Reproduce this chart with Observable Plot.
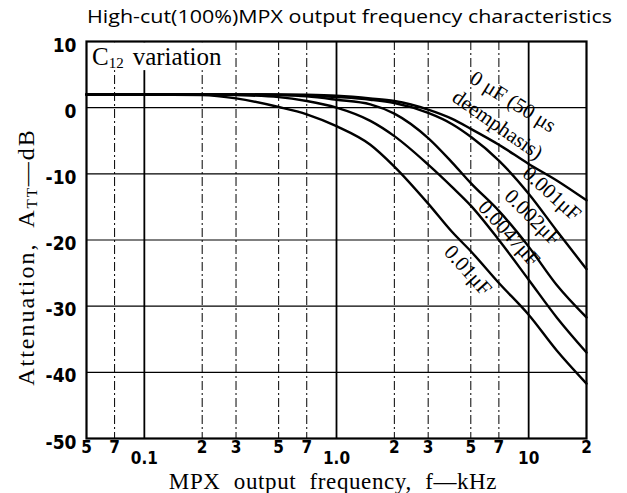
<!DOCTYPE html>
<html><head><meta charset="utf-8">
<script src="https://cdn.jsdelivr.net/npm/d3@7"></script>
<script src="https://cdn.jsdelivr.net/npm/@observablehq/plot@0.6"></script>
<style>body{margin:0;background:#fff} svg{display:block}</style>
</head><body><div id="chart"></div>
<script>
// frequencies in kHz at which curves were read
const freqs = [0.05, 0.1, 0.2, 0.3, 0.5, 0.7, 1, 1.5, 2, 3, 4, 5, 7, 10, 14, 20];
// attenuation in dB for each C12 value
const db_0uF    = [2, 2, 2, 2, 2, 1.95, 1.8, 1.4, 1.0, -0.3, -1.7, -3.2, -5.6, -8.5, -11.0, -14.0];
const db_0001uF = [2, 2, 2, 2, 1.95, 1.85, 1.6, 1.2, 0.7, -0.8, -2.5, -4.4, -8.0, -13.0, -18.6, -24.4];
const db_0002uF = [2, 2, 2, 2, 1.9, 1.7, 1.2, 0.5, -0.9, -4.6, -8.3, -11.4, -15.6, -21.0, -26.8, -31.7];
const db_00047uF= [2, 2, 2, 1.9, 1.6, 1.0, 0.0, -2.0, -4.3, -8.6, -12.0, -14.8, -20.0, -26.0, -31.7, -37.0];
const db_001uF  = [2, 2, 1.9, 1.4, 0.1, -1.0, -2.8, -5.6, -8.9, -14.5, -18.8, -21.7, -26.5, -31.3, -36.7, -41.7];
const seriesNames = ["0 µF", "0.001 µF", "0.002 µF", "0.0047 µF", "0.01 µF"];
const seriesValues = [db_0uF, db_0001uF, db_0002uF, db_00047uF, db_001uF];

// axes
const yTicks = [10, 0, -10, -20, -30, -40, -50];
const yTickText = ["10", "0", "-10", "-20", "-30", "-40", "-50"];
const xTicksUpper = [0.05, 0.07, 0.2, 0.3, 0.5, 0.7, 2, 3, 5, 7, 20];
const xTickUpperText = ["5", "7", "2", "3", "5", "7", "2", "3", "5", "7", "2"];
const xTicksLower = [0.1, 1, 10];
const xTickLowerText = ["0.1", "1.0", "10"];
const gridYValues = [0, -10, -20, -30, -40];
const gridXDecades = [0.1, 1, 10];
const gridXMinor = [0.07, 0.2, 0.3, 0.5, 0.7, 2, 3, 5, 7];

// curve annotations (anchor in kHz / dB, angle in degrees)
const curveLabelText = ["0 μF (50 μs", "deemphasis)", "0.001μF", "0.002μF", "0.0047μF", "0.01μF"];
const curveLabelFreq = [8.3, 6.9, 13.2, 10.5, 7.9, 4.83];
const curveLabelDb = [0.9, -2.6, -13, -16.6, -19, -24.6];
const curveLabelAngle = [32, 35, 42, 45, 48, 48];
// blank region behind the "C12 variation" note (kHz / dB)
const noteBoxFreq = [0.051, 0.24];
const noteBoxDb = [5.6, 9.8];

const rows = seriesNames.flatMap((s, i) => freqs.map((f, j) => ({s, f, db: seriesValues[i][j]})));
const labels = curveLabelText.map((t, i) => ({t, f: curveLabelFreq[i], db: curveLabelDb[i], a: curveLabelAngle[i]}));

const tickFont = "Liberation Sans Narrow, DejaVu Sans Condensed, Arial Narrow, sans-serif";
const W = 627, H = 493;
const chart = Plot.plot({
  width: W, height: H,
  marginLeft: 86, marginRight: 41, marginTop: 41, marginBottom: 55,
  style: {fontFamily: "Liberation Sans, Arial, sans-serif", background: "#fff", color: "#000"},
  x: {type: "log", domain: [0.05, 20], axis: null},
  y: {domain: [-50, 10], axis: null},
  marks: [
    Plot.ruleY(gridYValues, {stroke: "#000", strokeWidth: 1.2}),
    Plot.ruleX(gridXMinor, {stroke: "#000", strokeWidth: 1, strokeDasharray: "9,3,2,3"}),
    Plot.ruleX(gridXDecades, {stroke: "#000", strokeWidth: 1.8}),
    Plot.rect([0], {x1: () => noteBoxFreq[0], x2: () => noteBoxFreq[1], y1: () => noteBoxDb[0], y2: () => noteBoxDb[1], fill: "#fff"}),
    Plot.line(rows, {x: "f", y: "db", z: "s", stroke: "#000", strokeWidth: 2.4, curve: "monotone-x"}),
    Plot.frame({stroke: "#000", strokeWidth: 2.2}),
    Plot.text(yTicks, {x: 0.05, y: d => d, text: (d, i) => yTickText[i], textAnchor: "end", dx: -10, dy: 4,
      fontSize: 19, fontWeight: "bold", fontFamily: tickFont, fill: "#000"}),
    Plot.text(xTicksUpper, {x: d => d, frameAnchor: "bottom", text: (d, i) => xTickUpperText[i], lineAnchor: "top", dy: 2,
      fontSize: 17, fontWeight: "bold", fontFamily: tickFont, fill: "#000"}),
    Plot.text(xTicksLower, {x: d => d, frameAnchor: "bottom", text: (d, i) => xTickLowerText[i], lineAnchor: "top", dy: 13,
      fontSize: 17, fontWeight: "bold", fontFamily: tickFont, fill: "#000"}),
    Plot.text(labels, {x: "f", y: "db", text: "t", rotate: "a", fontSize: 21, fontFamily: "Liberation Serif, serif", fill: "#000"})
  ]
});
document.getElementById("chart").appendChild(chart);

const svg = d3.select(chart);
svg.append("text").attr("x", 87).attr("y", 23).attr("text-anchor", "start")
  .attr("font-family", "Open Sans, sans-serif").attr("font-size", 19).attr("fill", "#000")
  .attr("textLength", 525).attr("lengthAdjust", "spacingAndGlyphs")
  .text("High-cut(100%)MPX output frequency characteristics");
const note = svg.append("text").attr("x", 92).attr("y", 65).attr("text-anchor", "start")
  .attr("font-family", "Liberation Serif, serif").attr("font-size", 25).attr("fill", "#000");
note.append("tspan").text("C");
note.append("tspan").attr("font-size", 15).attr("dy", 3).text("12");
note.append("tspan").attr("dy", -3).attr("dx", 9).text("variation");
const yl = svg.append("text").attr("transform", "translate(34,257) rotate(-90)").attr("text-anchor", "middle")
  .attr("font-family", "Liberation Serif, serif").attr("font-size", 24).attr("fill", "#000")
  .attr("letter-spacing", 2);
yl.append("tspan").text("Attenuation,  A");
yl.append("tspan").attr("font-size", 15).attr("dy", 3).text("TT");
yl.append("tspan").attr("dy", -3).text("—dB");
svg.append("text").attr("x", 333).attr("y", 489).attr("text-anchor", "middle")
  .attr("font-family", "Liberation Serif, serif").attr("font-size", 23).attr("fill", "#000")
  .attr("word-spacing", 7).attr("letter-spacing", 0.6)
  .text("MPX output frequency, f—kHz");
</script></body></html>
